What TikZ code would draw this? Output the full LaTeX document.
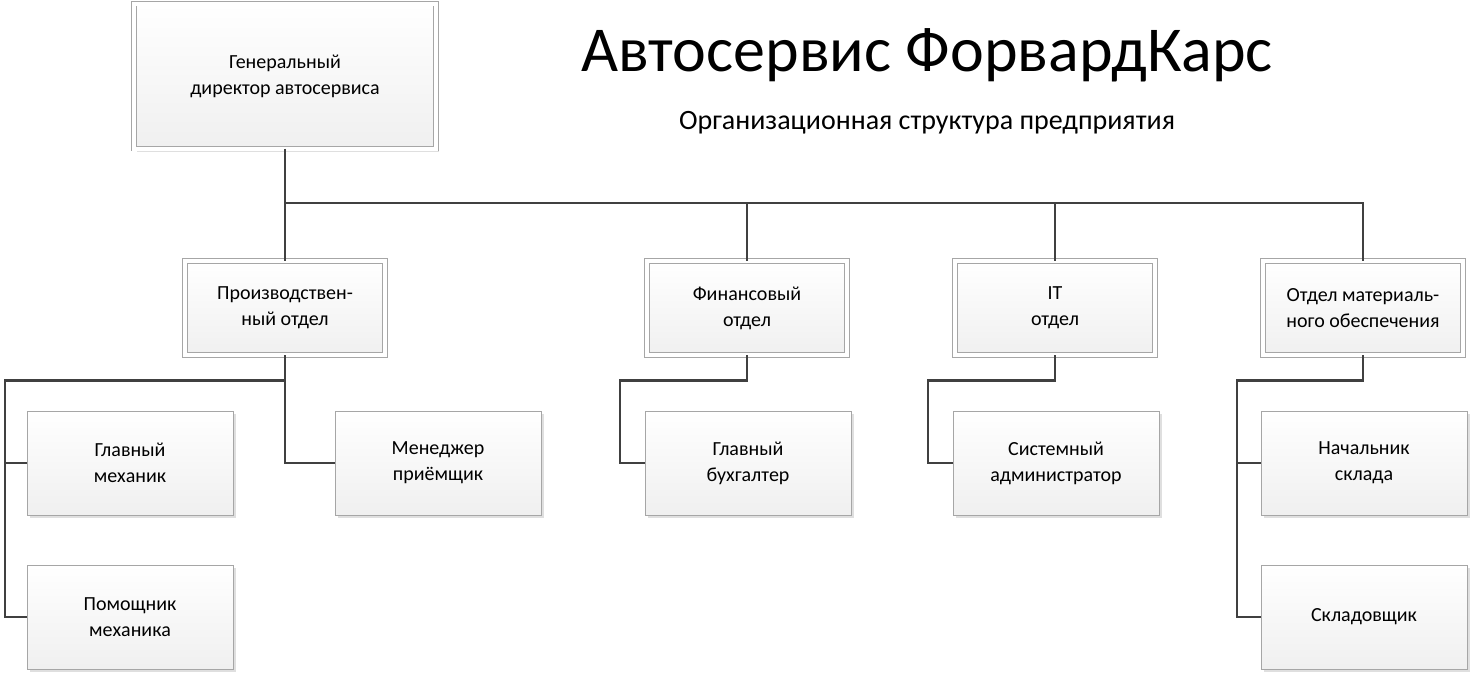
\documentclass[tikz,border=0pt]{standalone}
\usepackage{fontspec}
\setmainfont{Carlito}
\usetikzlibrary{positioning,shadows}

\tikzset{
  box/.style={draw=gray!70, line width=0.8pt, top color=white, bottom color=gray!12,
    minimum width=206pt, minimum height=104pt, align=center, font=\fontsize{20}{26}\selectfont,
    drop shadow={shadow xshift=3pt, shadow yshift=-3pt, opacity=0.25}},
  dbox/.style={box, double=white, double distance=4pt, minimum width=200pt, minimum height=94pt},
  link/.style={line width=2.4pt, draw=black!75}
}

\begin{document}
\begin{tikzpicture}[x=1pt, y=-1pt]
\useasboundingbox (0,0) rectangle (1471,673);
% title
\node (title) at (927,55) {\fontsize{64}{70}\selectfont Автосервис ФорвардКарс};
\node (subtitle) at (927,123) {\fontsize{28}{32}\selectfont Организационная структура предприятия};
% boxes
\node[dbox, minimum width=302pt, minimum height=145pt] (dir) at (285,76) {Генеральный\\директор автосервиса};
\node[dbox] (prod) at (285,308) {Производствен-\\ный отдел};
\node[dbox] (fin) at (747,308) {Финансовый\\отдел};
\node[dbox] (it) at (1055,308) {IT\\отдел};
\node[dbox] (mat) at (1363,308) {Отдел материаль-\\ного обеспечения};
\node[box] (mech) at (130,463) {Главный\\механик};
\node[box] (pmech) at (130,617) {Помощник\\механика};
\node[box] (mgr) at (438,463) {Менеджер\\приёмщик};
\node[box] (acc) at (748,463) {Главный\\бухгалтер};
\node[box] (adm) at (1056,463) {Системный\\администратор};
\node[box] (store) at (1364,463) {Начальник\\склада};
\node[box] (keeper) at (1364,617) {Складовщик};
% connectors
\draw[link] (dir.south) -- ++(0,54) -| (mat.north);
\draw[link] (dir.south) ++(0,54) -| (fin.north);
\draw[link] (dir.south) ++(0,54) -| (it.north);
\draw[link] (dir.south) -- (prod.north);
\draw[link] (prod.south) -- ++(0,25) -| (5,617) -- (pmech.west);
\draw[link] (5,463) -- (mech.west);
\draw[link] (prod.south) -- ++(0,25) |- (mgr.west);
\draw[link] (fin.south) -- ++(0,25) -| (620,463) -- (acc.west);
\draw[link] (it.south) -- ++(0,25) -| (928,463) -- (adm.west);
\draw[link] (mat.south) -- ++(0,25) -| (1237,617) -- (keeper.west);
\draw[link] (1237,463) -- (store.west);
\end{tikzpicture}
\end{document}
